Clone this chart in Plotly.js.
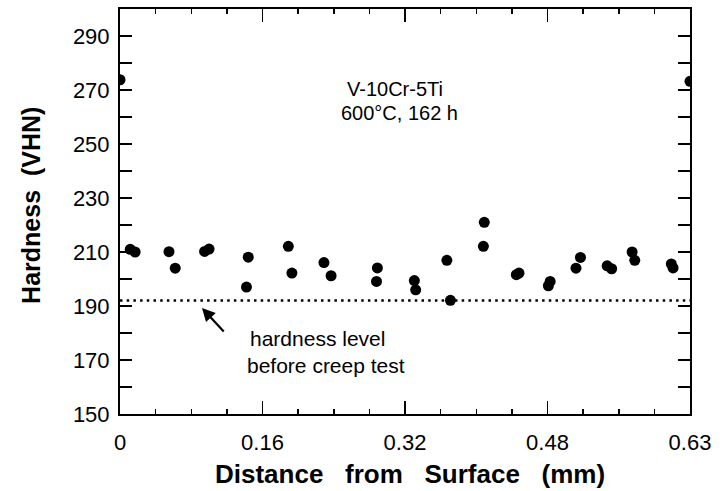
<!DOCTYPE html>
<html>
<head>
<meta charset="utf-8">
<script src="https://cdn.plot.ly/plotly-3.0.1.min.js"></script>
<style>html,body{margin:0;padding:0;background:#fff;}#chart{width:722px;height:491px;}</style>
</head>
<body>
<div id="chart"></div>
<script>
// Hardness measurements (distance from surface in mm, hardness in VHN)
const distance = [0, 0.0115, 0.017, 0.055, 0.062, 0.095, 0.100, 0.144, 0.142, 0.189, 0.193,
  0.229, 0.237, 0.289, 0.288, 0.3305, 0.332, 0.367, 0.371, 0.409, 0.408,
  0.445, 0.448, 0.481, 0.483, 0.512, 0.517, 0.547, 0.552, 0.575, 0.578,
  0.619, 0.621, 0.64];
const hardness = [273.8, 211, 210, 210.1, 204, 210.2, 211.1, 208.1, 197, 212.1, 202.2,
  206.1, 201.2, 204.1, 199.1, 199.4, 196, 206.9, 192.1, 221, 212.1,
  201.6, 202.2, 197.5, 199.1, 204, 208, 204.9, 203.8, 210.0, 206.9,
  205.6, 204.1, 273.2];
const baselineHardness = 192;
const xTickVals = [0, 0.16, 0.32, 0.48, 0.64];
const xTickText = ["0", "0.16", "0.32", "0.48", "0.63"];
const yTickVals = [150, 170, 190, 210, 230, 250, 270, 290];
const xRange = [0, 0.64];
const yRange = [150, 300];

const FONT = "'Liberation Sans', Arial, Helvetica, sans-serif";
const SP = '\u00a0\u00a0\u00a0';
const SP2 = '\u00a0\u00a0';

const traces = [{
  type: 'scatter', mode: 'markers',
  x: distance, y: hardness,
  marker: {color: '#000', size: 11},
  showlegend: false, hoverinfo: 'x+y'
}, {
  type: 'scatter', mode: 'lines',
  x: xRange, y: [baselineHardness, baselineHardness],
  line: {color: '#000', width: 2.5, dash: '2.5px,4.2px'},
  showlegend: false, hoverinfo: 'skip'
}];

const layout = {
  width: 722, height: 491,
  margin: {l: 120, r: 32, t: 9, b: 77},
  paper_bgcolor: '#fff', plot_bgcolor: '#fff',
  font: {family: FONT, color: '#000', size: 22},
  xaxis: {
    range: xRange, tickvals: xTickVals, ticktext: xTickText,
    ticks: 'inside', ticklen: 13, tickwidth: 1.5, tickcolor: '#000',
    minor: {dtick: 0.04, ticks: 'inside', ticklen: 5, tickwidth: 1.5, tickcolor: '#000', showgrid: false},
    showline: true, linecolor: '#000', linewidth: 2, mirror: 'ticks',
    showgrid: false, zeroline: false,
    tickfont: {size: 22, family: FONT, color: '#000'},
    ticklabelstandoff: 8
  },
  yaxis: {
    range: yRange, tickvals: yTickVals,
    ticks: 'inside', ticklen: 12, tickwidth: 1.5, tickcolor: '#000',
    minor: {dtick: 10, tick0: 150, ticks: 'inside', ticklen: 12, tickwidth: 1.5, tickcolor: '#000', showgrid: false},
    showline: true, linecolor: '#000', linewidth: 2, mirror: 'ticks',
    showgrid: false, zeroline: false,
    tickfont: {size: 22, family: FONT, color: '#000'},
    ticklabelstandoff: 4
  },
  annotations: [
    {x: 0.5088, y: -0.148, xref: 'paper', yref: 'paper', xanchor: 'center', yanchor: 'middle',
     text: 'Distance' + SP + 'from' + SP + 'Surface' + SP + '(mm)', showarrow: false,
     font: {size: 26, family: FONT, color: '#000', weight: 'bold'}},
    {x: -0.1553, y: 0.515, xref: 'paper', yref: 'paper', xanchor: 'center', yanchor: 'middle',
     text: 'Hardness' + SP2 + '(VHN)', textangle: -90, showarrow: false,
     font: {size: 25, family: FONT, color: '#000', weight: 'bold'}},
    {x: 0.3088, y: 270.4, xref: 'x', yref: 'y', text: 'V-10Cr-5Ti', showarrow: false,
     font: {size: 20, family: FONT, color: '#000'}},
    {x: 0.3133, y: 261.5, xref: 'x', yref: 'y', text: '600°C, 162 h', showarrow: false,
     font: {size: 20, family: FONT, color: '#000'}},
    {x: 0.2223, y: 177.8, xref: 'x', yref: 'y', text: 'hardness level', showarrow: false,
     font: {size: 21, family: FONT, color: '#000'}},
    {x: 0.2313, y: 168.1, xref: 'x', yref: 'y', text: 'before creep test', showarrow: false,
     font: {size: 21, family: FONT, color: '#000'}},
    {x: 0.092, y: 189.3, ax: 0.118, ay: 180, xref: 'x', yref: 'y', axref: 'x', ayref: 'y',
     text: '', showarrow: true, arrowhead: 2, arrowsize: 1.2, arrowwidth: 2.2, arrowcolor: '#000'}
  ]
};

Plotly.newPlot('chart', traces, layout, {displayModeBar: false, staticPlot: true});
</script>
</body>
</html>
